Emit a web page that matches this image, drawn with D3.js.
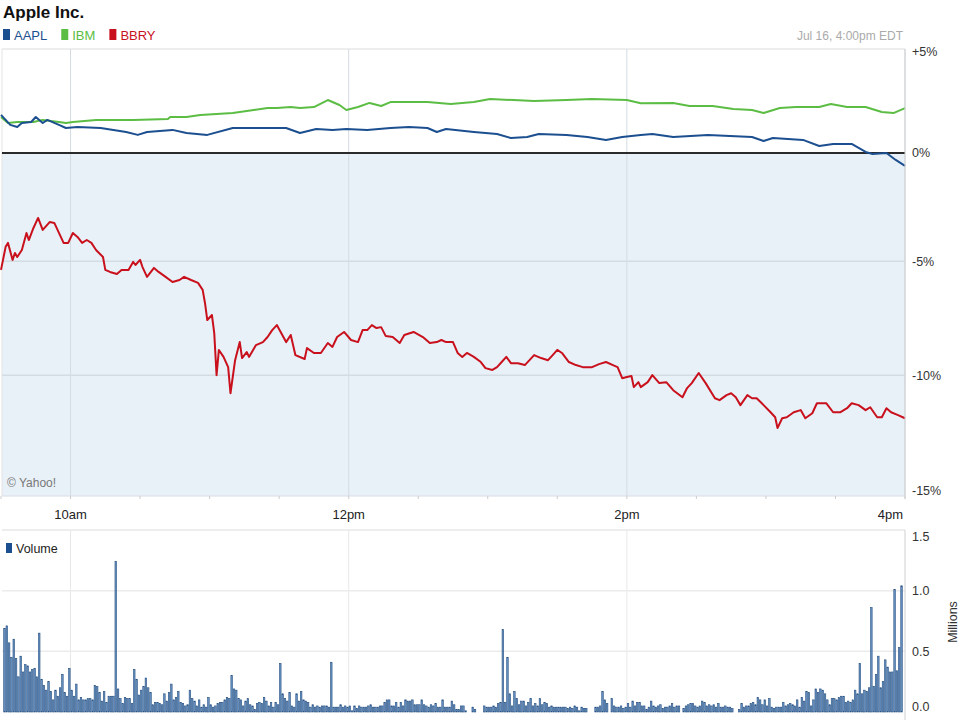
<!DOCTYPE html>
<html>
<head>
<meta charset="utf-8">
<script src="https://cdn.jsdelivr.net/npm/d3@7"></script>
<style>
  body { margin: 0; background: #fff; }
  svg { display: block; font-family: "Liberation Sans", Arial, sans-serif; }
</style>
</head>
<body>
<div id="chart"></div>
<script>
// ---- data (percent change vs previous close, minutes after 9:30 open) ----
const aaplMinutes = [0, 4, 7, 9, 13, 15, 18, 20, 25, 28, 33, 43, 54, 59, 63, 74, 80, 89, 100, 109, 123, 129, 136, 143, 149, 158, 168, 176, 184, 188, 192, 204, 214, 220, 227, 232, 244, 253, 261, 268, 276, 281, 290, 305, 324, 329, 333, 346, 353, 359, 367, 373, 376, 382, 386, 390];
const aaplPct = [1.82, 1.34, 1.24, 1.43, 1.48, 1.72, 1.43, 1.58, 1.34, 1.19, 1.24, 1.19, 1.00, 0.86, 1.00, 1.10, 0.95, 0.86, 1.19, 1.19, 1.19, 0.95, 1.14, 1.10, 1.14, 1.10, 1.19, 1.24, 1.19, 1.00, 1.14, 1.00, 0.90, 0.71, 0.76, 0.90, 0.86, 0.76, 0.62, 0.76, 0.86, 0.90, 0.76, 0.86, 0.76, 0.57, 0.71, 0.62, 0.33, 0.43, 0.43, 0.05, -0.05, 0.00, -0.33, -0.61];

const ibmMinutes = [0, 3, 7, 14, 18, 25, 28, 31, 41, 57, 72, 73, 80, 86, 100, 109, 115, 119, 125, 129, 135, 141, 146, 149, 154, 159, 164, 168, 184, 194, 204, 211, 230, 244, 255, 270, 276, 290, 297, 307, 316, 324, 329, 336, 343, 353, 358, 365, 373, 380, 385, 390];
const ibmPct = [1.72, 1.43, 1.48, 1.48, 1.58, 1.48, 1.43, 1.48, 1.58, 1.58, 1.62, 1.72, 1.72, 1.82, 1.91, 2.06, 2.15, 2.15, 2.20, 2.15, 2.20, 2.54, 2.30, 2.06, 2.20, 2.40, 2.25, 2.44, 2.44, 2.35, 2.44, 2.59, 2.49, 2.54, 2.59, 2.54, 2.38, 2.40, 2.25, 2.25, 2.11, 2.06, 1.91, 2.15, 2.20, 2.20, 2.35, 2.20, 2.20, 1.96, 1.91, 2.15];

const bbryMinutes = [0, 2, 3, 5, 6, 7, 9, 11, 12, 14, 16, 18, 21, 23, 27, 29, 31, 33, 35, 37, 39, 41, 44, 45, 47, 50, 52, 55, 57, 58, 60, 61, 63, 66, 68, 71, 74, 77, 79, 82, 85, 87, 88, 89, 91, 92, 93, 94, 96, 98, 99, 101, 103, 104, 106, 107, 110, 113, 115, 117, 119, 123, 125, 127, 131, 132, 135, 138, 141, 143, 145, 148, 151, 154, 156, 158, 160, 162, 164, 166, 169, 172, 174, 178, 182, 185, 188, 190, 192, 195, 197, 199, 201, 204, 207, 209, 212, 214, 216, 218, 220, 223, 226, 228, 230, 233, 236, 238, 240, 242, 245, 248, 251, 255, 258, 261, 264, 266, 268, 270, 272, 273, 275, 276, 279, 281, 284, 287, 290, 294, 296, 298, 301, 304, 308, 310, 313, 315, 317, 319, 322, 324, 326, 329, 332, 334, 335, 337, 339, 342, 345, 347, 350, 352, 356, 359, 362, 365, 367, 370, 373, 375, 378, 380, 382, 384, 387, 390];
const bbryPct = [-5.39, -4.35, -4.17, -4.94, -4.63, -4.81, -4.49, -3.72, -4.04, -3.49, -3.03, -3.58, -3.22, -3.26, -4.17, -4.17, -3.72, -3.90, -4.17, -4.04, -4.17, -4.49, -4.81, -5.39, -5.48, -5.57, -5.39, -5.39, -5.03, -5.17, -4.94, -5.25, -5.70, -5.30, -5.48, -5.70, -5.93, -5.84, -5.70, -5.84, -5.97, -6.28, -6.86, -7.61, -7.39, -8.18, -9.99, -8.91, -9.21, -9.65, -10.76, -9.35, -8.57, -9.26, -9.00, -9.21, -8.70, -8.57, -8.35, -8.05, -7.83, -8.57, -8.26, -9.13, -9.30, -8.83, -9.04, -9.04, -8.61, -8.78, -8.35, -8.13, -8.48, -8.57, -8.05, -8.05, -7.83, -7.96, -7.92, -8.31, -8.35, -8.61, -8.26, -8.13, -8.35, -8.61, -8.57, -8.48, -8.57, -8.57, -9.04, -9.21, -9.04, -9.21, -9.43, -9.69, -9.77, -9.65, -9.43, -9.21, -9.48, -9.48, -9.56, -9.35, -9.13, -9.26, -9.35, -9.13, -8.91, -9.04, -9.43, -9.56, -9.65, -9.65, -9.52, -9.43, -9.56, -9.65, -10.12, -10.07, -10.03, -10.50, -10.29, -10.50, -10.29, -9.99, -10.33, -10.29, -10.63, -10.93, -10.54, -10.33, -9.90, -10.33, -10.97, -11.05, -10.84, -10.76, -10.93, -11.26, -10.84, -10.97, -10.97, -11.26, -11.56, -11.77, -12.22, -11.81, -11.77, -11.56, -11.47, -11.81, -11.60, -11.18, -11.18, -11.56, -11.56, -11.39, -11.18, -11.26, -11.47, -11.35, -11.77, -11.77, -11.39, -11.56, -11.68, -11.81];

// ---- volume in millions, one bar per minute starting at minute 1 ----
const volume = [
  0.69, 0.71, 0.57, 0.45, 0.60, 0.44, 0.29, 0.46, 0.33, 0.39,
  0.38, 0.33, 0.35, 0.36, 0.29, 0.65, 0.27, 0.22, 0.18, 0.25,
  0.17, 0.10, 0.18, 0.13, 0.20, 0.31, 0.16, 0.13, 0.36, 0.18,
  0.13, 0.23, 0.10, 0.12, 0.10, 0.10, 0.11, 0.11, 0.10, 0.22,
  0.21, 0.16, 0.09, 0.17, 0.08, 0.13, 0.13, 0.13, 1.24, 0.19,
  0.11, 0.07, 0.12, 0.11, 0.11, 0.07, 0.35, 0.27, 0.14, 0.18,
  0.21, 0.28, 0.20, 0.16, 0.06, 0.08, 0.08, 0.07, 0.06, 0.15,
  0.09, 0.16, 0.23, 0.10, 0.12, 0.17, 0.08, 0.07, 0.05, 0.06,
  0.18, 0.11, 0.09, 0.05, 0.10, 0.04, 0.06, 0.04, 0.12, 0.06,
  0.04, 0.05, 0.07, 0.08, 0.08, 0.10, 0.12, 0.11, 0.30, 0.19,
  0.18, 0.11, 0.10, 0.05, 0.09, 0.11, 0.06, 0.05, 0.02, 0.07,
  0.08, 0.07, 0.12, 0.09, 0.05, 0.08, 0.04, 0.08, 0.06, 0.40,
  0.15, 0.11, 0.09, 0.16, 0.05, 0.04, 0.15, 0.09, 0.17, 0.10,
  0.09, 0.08, 0.04, 0.06, 0.04, 0.05, 0.04, 0.05, 0.05, 0.05,
  0.04, 0.41, 0.04, 0.04, 0.04, 0.06, 0.04, 0.05, 0.04, 0.05,
  0.01, 0.05, 0.03, 0.05, 0.04, 0.04, 0.04, 0.05, 0.06, 0.04,
  0.04, 0.04, 0.05, 0.05, 0.08, 0.10, 0.10, 0.05, 0.05, 0.08,
  0.04, 0.08, 0.05, 0.10, 0.09, 0.09, 0.10, 0.06, 0.06, 0.06,
  0.10, 0.06, 0.05, 0.04, 0.06, 0.05, 0.07, 0.04, 0.04, 0.10,
  0.04, 0.04, 0.04, 0.09, 0.06, 0.02, 0.02, 0.05, 0.05, 0.01,
  0.00, 0.00, 0.04, 0.02, 0.00, 0.00, 0.00, 0.05, 0.04, 0.04,
  0.04, 0.05, 0.04, 0.07, 0.08, 0.68, 0.08, 0.45, 0.15, 0.05,
  0.17, 0.11, 0.06, 0.09, 0.09, 0.05, 0.08, 0.11, 0.05, 0.07,
  0.05, 0.11, 0.06, 0.08, 0.07, 0.04, 0.05, 0.04, 0.04, 0.04,
  0.04, 0.04, 0.04, 0.03, 0.04, 0.03, 0.05, 0.04, 0.01, 0.04,
  0.03, 0.03, 0.00, 0.00, 0.00, 0.04, 0.04, 0.05, 0.17,
  0.10, 0.07, 0.00, 0.11, 0.05, 0.04, 0.04, 0.05, 0.03, 0.04,
  0.07, 0.04, 0.09, 0.05, 0.08, 0.08, 0.05, 0.05, 0.02, 0.04,
  0.09, 0.05, 0.04, 0.05, 0.06, 0.03, 0.04, 0.04, 0.05, 0.07,
  0.04, 0.05, 0.05, 0.00, 0.03, 0.05, 0.06, 0.07, 0.07, 0.05,
  0.04, 0.05, 0.09, 0.08, 0.05, 0.06, 0.05, 0.06, 0.04, 0.07,
  0.04, 0.04, 0.05, 0.04, 0.04, 0.03, 0.00, 0.00, 0.02, 0.07,
  0.04, 0.05, 0.05, 0.07, 0.08, 0.06, 0.12, 0.10, 0.06, 0.10,
  0.05, 0.11, 0.04, 0.03, 0.04, 0.04, 0.04, 0.08, 0.05, 0.06,
  0.07, 0.06, 0.05, 0.10, 0.04, 0.12, 0.09, 0.17, 0.16, 0.05,
  0.10, 0.19, 0.16, 0.19, 0.18, 0.15, 0.10, 0.06, 0.11, 0.11,
  0.10, 0.12, 0.13, 0.13, 0.08, 0.09, 0.08, 0.10, 0.18, 0.15,
  0.40, 0.15, 0.18, 0.17, 0.20, 0.86, 0.21, 0.31, 0.46, 0.20,
  0.25, 0.43, 0.37, 0.33, 0.33, 1.01, 0.34, 0.53, 1.04
];

// ---- ticks and labels ----
const timeTickHours = [10, 12, 14, 16];
const timeTickLabels = ["10am", "12pm", "2pm", "4pm"];
const pctTicks = [5, 0, -5, -10, -15];
const pctTickLabels = ["+5%", "0%", "-5%", "-10%", "-15%"];
const volTicks = [1.5, 1.0, 0.5, 0.0];
const volTickLabels = ["1.5", "1.0", "0.5", "0.0"];

const seriesNames = ["AAPL", "IBM", "BBRY"];
const seriesColors = ["#1c4f8f", "#5cbd44", "#c8111d"];

// ---- setup ----
const width = 960, height = 720;
const svg = d3.select("#chart").append("svg")
  .attr("width", width)
  .attr("height", height);

const openTime = new Date(2013, 6, 16, 9, 30);
const closeTime = new Date(2013, 6, 16, 16, 0);
const atMinute = m => d3.timeMinute.offset(openTime, m);

const plotLeft = 2, plotRight = 905;
const priceTop = 49, priceBottom = 496;
const volTop = 530, volBottom = 712;

const x = d3.scaleTime().domain([openTime, closeTime]).range([1, plotRight]);

// percent scale is logarithmic on the price ratio
const y = d3.scaleLog().domain([0.85, 1.05]).range([priceBottom, priceTop + 1]);
const yPct = p => y(1 + p / 100);

const yVol = d3.scaleLinear().domain([0, 1.5]).range([volBottom, volTop]);

const tickTimes = timeTickHours.map(h => new Date(2013, 6, 16, h, 0));

// ---- title, legend, date ----
svg.append("text")
  .attr("x", 3).attr("y", 18)
  .attr("font-size", 17).attr("font-weight", "bold").attr("fill", "#111")
  .text("Apple Inc.");

let lx = 3;
seriesNames.forEach((name, i) => {
  svg.append("rect")
    .attr("x", lx).attr("y", 29).attr("width", 7).attr("height", 11)
    .attr("fill", seriesColors[i]);
  const t = svg.append("text")
    .attr("x", lx + 11).attr("y", 39.5)
    .attr("font-size", 13).attr("fill", seriesColors[i])
    .text(name);
  lx += 11 + t.node().getComputedTextLength() + 14;
});

svg.append("text")
  .attr("x", 903).attr("y", 40)
  .attr("text-anchor", "end")
  .attr("font-size", 12).attr("fill", "#aaa")
  .text("Jul 16, 4:00pm EDT");

// ---- price panel ----
const price = svg.append("g");

// shaded area below 0%
price.append("rect")
  .attr("x", plotLeft).attr("y", yPct(0))
  .attr("width", plotRight - plotLeft).attr("height", priceBottom - yPct(0))
  .attr("fill", "#e9f1f8");

// frame
price.append("line")
  .attr("x1", plotLeft).attr("x2", plotRight).attr("y1", priceTop).attr("y2", priceTop)
  .attr("stroke", "#dcdcdc");
price.append("line")
  .attr("x1", plotLeft).attr("x2", plotLeft).attr("y1", priceTop).attr("y2", priceBottom)
  .attr("stroke", "#e4e4e4");
price.append("line")
  .attr("x1", plotLeft).attr("x2", plotRight).attr("y1", priceBottom).attr("y2", priceBottom)
  .attr("stroke", "#d8dde3");

// vertical grid
price.selectAll(".vgrid").data(tickTimes).enter().append("line")
  .attr("x1", d => x(d)).attr("x2", d => x(d))
  .attr("y1", priceTop).attr("y2", priceBottom)
  .attr("stroke", "#d3dbe3");

// horizontal grid
price.selectAll(".hgrid").data([-5, -10]).enter().append("line")
  .attr("x1", plotLeft).attr("x2", plotRight)
  .attr("y1", d => yPct(d)).attr("y2", d => yPct(d))
  .attr("stroke", "#d3dbe3").attr("stroke-width", 1.5);

// half-hour ticks at the bottom
price.selectAll(".mtick").data(d3.timeMinute.every(30).range(openTime, d3.timeMinute.offset(closeTime, 1))).enter().append("line")
  .attr("x1", d => x(d)).attr("x2", d => x(d))
  .attr("y1", priceBottom).attr("y2", priceBottom + 3)
  .attr("stroke", "#ccc");

// right axis labels
price.selectAll(".plabel").data(pctTicks).enter().append("text")
  .attr("x", 912)
  .attr("y", d => Math.max(52, Math.min(491, yPct(d))))
  .attr("dy", "0.35em")
  .attr("font-size", 12.5).attr("fill", "#333")
  .text((d, i) => pctTickLabels[i]);

// time labels
price.selectAll(".tlabel").data(tickTimes).enter().append("text")
  .attr("x", (d, i) => i === tickTimes.length - 1 ? x(d) - 2 : x(d))
  .attr("y", 519)
  .attr("text-anchor", (d, i) => i === tickTimes.length - 1 ? "end" : "middle")
  .attr("font-size", 13).attr("fill", "#222")
  .text((d, i) => timeTickLabels[i]);

price.append("text")
  .attr("x", 7).attr("y", 487)
  .attr("font-size", 12).attr("fill", "#777")
  .text("\u00A9 Yahoo!");

// series lines
const line = d3.line().x(d => x(atMinute(d[0]))).y(d => yPct(d[1]));
const seriesData = [
  { name: "IBM", color: seriesColors[1], pts: d3.zip(ibmMinutes, ibmPct) },
  { name: "AAPL", color: seriesColors[0], pts: d3.zip(aaplMinutes, aaplPct) },
  { name: "BBRY", color: seriesColors[2], pts: d3.zip(bbryMinutes, bbryPct) }
];

// 0% baseline (under the lines)
price.append("line")
  .attr("x1", plotLeft).attr("x2", plotRight)
  .attr("y1", yPct(0)).attr("y2", yPct(0))
  .attr("stroke", "#2a2a2a").attr("stroke-width", 2);

seriesData.forEach(s => {
  price.append("path")
    .datum(s.pts)
    .attr("fill", "none")
    .attr("stroke", s.color)
    .attr("stroke-width", 2)
    .attr("stroke-linejoin", "round")
    .attr("d", line);
});

// right axis line
price.append("line")
  .attr("x1", plotRight).attr("x2", plotRight).attr("y1", priceTop).attr("y2", priceBottom + 3)
  .attr("stroke", "#d0d0d0");

// ---- volume panel ----
const vol = svg.append("g");

vol.append("line")
  .attr("x1", plotLeft).attr("x2", plotRight).attr("y1", volTop).attr("y2", volTop)
  .attr("stroke", "#dcdcdc");

vol.selectAll(".vgrid").data(tickTimes.slice(0, 3)).enter().append("line")
  .attr("x1", d => x(d)).attr("x2", d => x(d))
  .attr("y1", volTop).attr("y2", volBottom)
  .attr("stroke", "#e8e8e8");

vol.selectAll(".hgrid").data([1.0, 0.5]).enter().append("line")
  .attr("x1", plotLeft).attr("x2", plotRight)
  .attr("y1", d => yVol(d)).attr("y2", d => yVol(d))
  .attr("stroke", "#ececec").attr("stroke-width", 1.5);

vol.append("line")
  .attr("x1", plotRight).attr("x2", plotRight).attr("y1", volTop).attr("y2", height)
  .attr("stroke", "#d0d0d0");

// one bar per minute
vol.selectAll(".bar").data(volume.map((v, i) => ({ v, m: i + 1 }))).enter().append("rect")
  .attr("x", d => x(atMinute(d.m)) + 0.4)
  .attr("y", d => yVol(d.v))
  .attr("width", d => Math.max(1, x(atMinute(d.m + 1)) - x(atMinute(d.m)) - 0.8))
  .attr("height", d => volBottom - yVol(d.v))
  .attr("fill", "#6a93c2")
  .attr("stroke", "#244f82")
  .attr("stroke-width", 0.6);

vol.selectAll(".vlabel").data(volTicks).enter().append("text")
  .attr("x", 912)
  .attr("y", d => Math.max(537, Math.min(707, yVol(d))))
  .attr("dy", "0.35em")
  .attr("font-size", 12.5).attr("fill", "#333")
  .text((d, i) => volTickLabels[i]);

vol.append("text")
  .attr("transform", "translate(957," + 622 + ") rotate(-90)")
  .attr("text-anchor", "middle")
  .attr("font-size", 12.5).attr("fill", "#333")
  .text("Millions");

vol.append("rect")
  .attr("x", 6).attr("y", 543).attr("width", 6).attr("height", 10)
  .attr("fill", "#1c4f8f");
vol.append("text")
  .attr("x", 16).attr("y", 553)
  .attr("font-size", 12.5).attr("fill", "#222")
  .text("Volume");
</script>
</body>
</html>
